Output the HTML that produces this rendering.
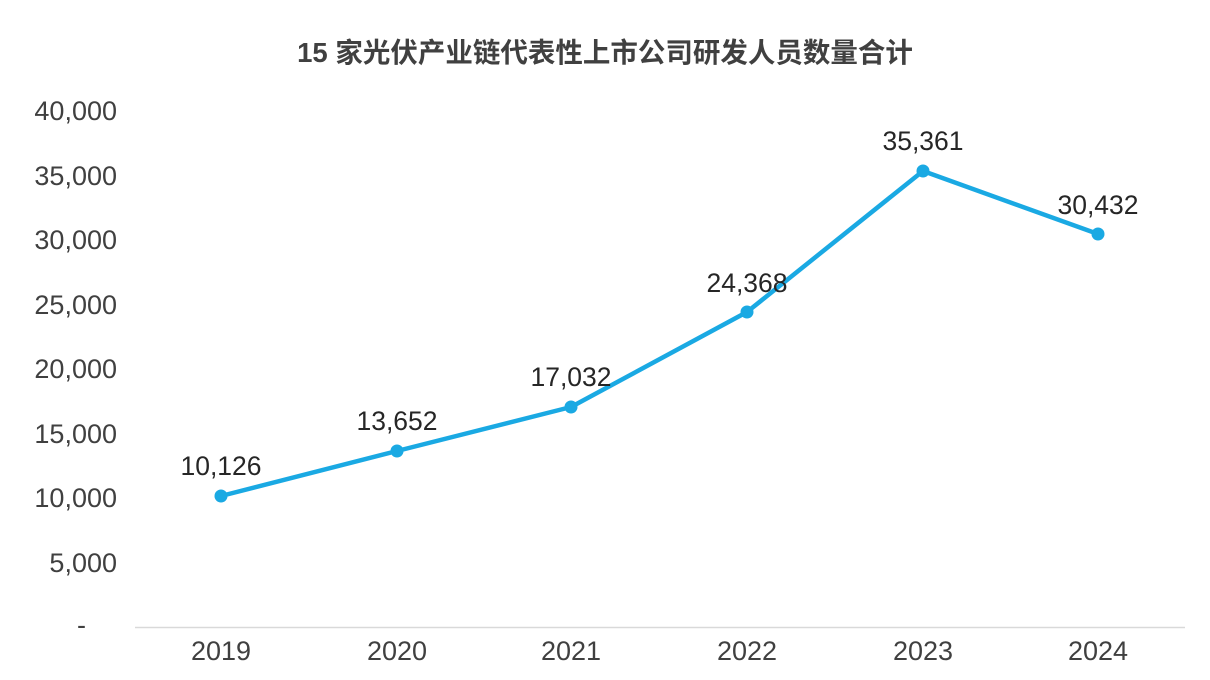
<!DOCTYPE html>
<html><head><meta charset="utf-8"><style>
html,body{margin:0;padding:0;background:#fff;}
svg{display:block;}
text{font-family:"Liberation Sans","Noto Sans CJK SC",sans-serif;}
</style></head><body>
<svg width="1210" height="680" viewBox="0 0 1210 680">
<rect width="1210" height="680" fill="#fff"/>
<text x="605" y="62" text-anchor="middle" font-size="27.5" font-weight="bold" fill="#404040">15 家光伏产业链代表性上市公司研发人员数量合计</text>
<g font-size="27" fill="#404040" text-anchor="end">
<text x="117" y="120">40,000</text>
<text x="117" y="185">35,000</text>
<text x="117" y="249">30,000</text>
<text x="117" y="314">25,000</text>
<text x="117" y="378">20,000</text>
<text x="117" y="443">15,000</text>
<text x="117" y="507">10,000</text>
<text x="117" y="572">5,000</text>
<text x="86" y="634">-</text>
</g>
<line x1="135" y1="627.5" x2="1185" y2="627.5" stroke="#d9d9d9" stroke-width="1.5"/>
<g font-size="27" fill="#404040" text-anchor="middle">
<text x="221" y="660">2019</text>
<text x="397" y="660">2020</text>
<text x="571" y="660">2021</text>
<text x="747" y="660">2022</text>
<text x="923" y="660">2023</text>
<text x="1098" y="660">2024</text>
</g>
<polyline points="221,496 397,451 571,407 747,312 923,171 1098,234" fill="none" stroke="#1aa9e3" stroke-width="4.5" stroke-linejoin="round"/>
<g fill="#1aa9e3">
<circle cx="221" cy="496" r="6.5"/><circle cx="397" cy="451" r="6.5"/><circle cx="571" cy="407" r="6.5"/>
<circle cx="747" cy="312" r="6.5"/><circle cx="923" cy="171" r="6.5"/><circle cx="1098" cy="234" r="6.5"/>
</g>
<g font-size="26.5" fill="#262626" text-anchor="middle">
<text x="221" y="475">10,126</text>
<text x="397" y="430">13,652</text>
<text x="571" y="386">17,032</text>
<text x="747" y="292">24,368</text>
<text x="923" y="150">35,361</text>
<text x="1098" y="214">30,432</text>
</g>
</svg>
</body></html>
